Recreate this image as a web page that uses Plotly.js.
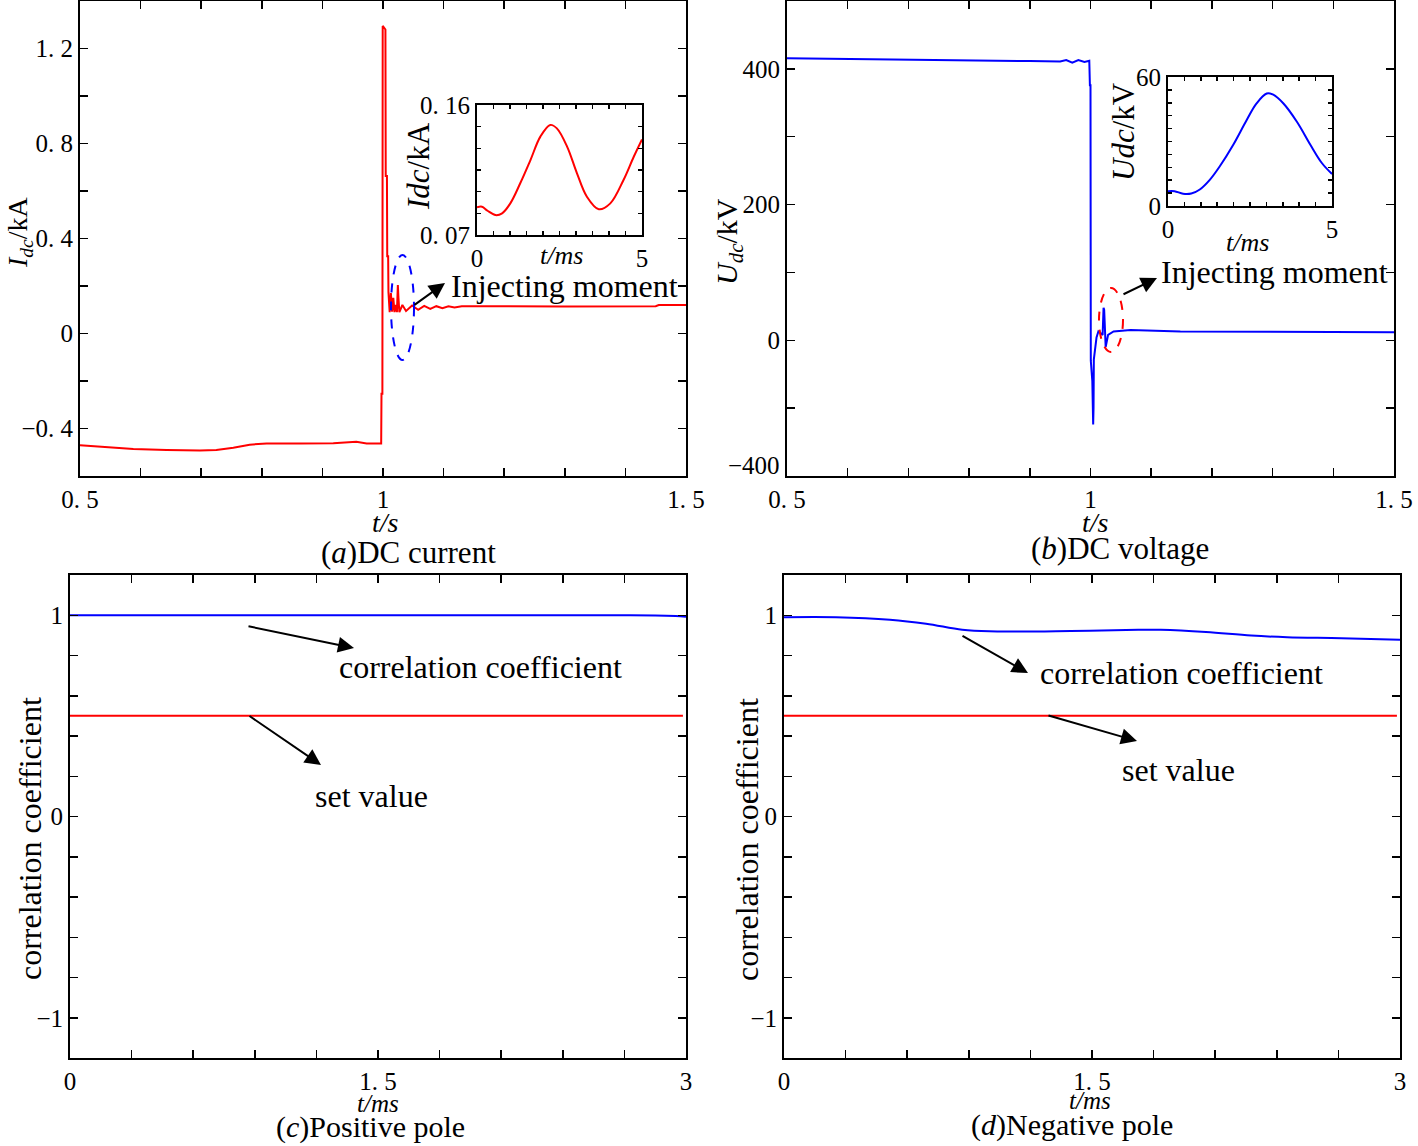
<!DOCTYPE html>
<html>
<head>
<meta charset="utf-8">
<script src="https://cdn.plot.ly/plotly-3.0.1.min.js"></script>
<style>
  body { margin: 0; background: #fff; }
  #chart { width: 1418px; height: 1146px; }
</style>
</head>
<body>
<div id="chart"></div>
<script>
// (a) DC current, t in s, I in kA
var tA = [0.5, 0.544, 0.588, 0.643, 0.698, 0.725, 0.753, 0.78, 0.808, 0.863, 0.918, 0.956, 0.973, 0.997,
  0.9975, 0.999, 0.9995, 1.004, 1.0045, 1.0065, 1.007, 1.0085, 1.009, 1.011, 1.013, 1.015, 1.017, 1.019,
  1.021, 1.023, 1.0245, 1.0255, 1.027, 1.032, 1.038, 1.048, 1.058, 1.068, 1.078, 1.088, 1.098, 1.108,
  1.118, 1.13, 1.2, 1.3, 1.45, 1.455, 1.5];
var iA = [-0.471, -0.478, -0.486, -0.49, -0.493, -0.49, -0.481, -0.468, -0.463, -0.463, -0.462, -0.456, -0.463, -0.463,
  -0.254, -0.254, 1.295, 1.28, 0.663, 0.663, 0.325, 0.325, 0.174, 0.09, 0.17, 0.092, 0.15, 0.09,
  0.12, 0.09, 0.204, 0.15, 0.09, 0.12, 0.095, 0.118, 0.1, 0.116, 0.104, 0.115, 0.107, 0.115,
  0.11, 0.115, 0.114, 0.114, 0.115, 0.12, 0.12];

// (a) inset, t in ms
var tAi = [0, 0.15, 0.32, 0.56, 0.76, 1.01, 1.31, 1.62, 1.92, 2.22, 2.42, 2.73, 3.03, 3.33, 3.69, 4.04, 4.44, 4.75, 5.0];
var iAi = [0.0892, 0.0896, 0.0868, 0.0838, 0.085, 0.0919, 0.1058, 0.1219, 0.1381, 0.1462, 0.1438, 0.1312, 0.1127,
  0.0965, 0.0878, 0.0919, 0.1081, 0.1242, 0.1362];

// (b) DC voltage, t in s, U in kV
var tB = [0.5, 0.6, 0.7, 0.8, 0.9, 0.95, 0.96, 0.97, 0.98, 0.99, 0.998, 0.999, 1.0, 1.0005, 1.003, 1.0044,
  1.005, 1.0055, 1.0099, 1.013, 1.02, 1.0215, 1.0225, 1.025, 1.029, 1.038, 1.066, 1.148, 1.3, 1.4, 1.5];
var uB = [415.8, 415, 414, 412.5, 411.5, 411, 413, 409, 413, 410, 412, 376, 376, -30, -60, -124,
  -100, -28, 4, 13, 8, 48, 45, -10, 8, 13, 15, 13, 12.5, 12, 12];

// (b) inset, t in ms
var tBi = [0, 0.2, 0.46, 0.71, 0.97, 1.28, 1.58, 1.99, 2.4, 2.7, 3.01, 3.21, 3.52, 3.93, 4.34, 4.69, 5.0];
var uBi = [6.9, 6.9, 5.7, 5.8, 7.7, 12.3, 18.5, 28.5, 40, 47.7, 52.3, 51.8, 47.7, 39.2, 28.5, 20, 14.9];

// (c) positive pole, (d) negative pole, t in ms
var tC = [0, 0.3, 0.6, 0.9, 1.2, 1.5, 1.8, 2.1, 2.4, 2.7, 2.85, 2.95, 3.0];
var rC = [1, 1, 1, 1, 1, 1, 1, 1, 1, 1, 0.999, 0.996, 0.993];
var tD = [0, 0.253, 0.516, 0.692, 0.868, 1.0, 1.396, 1.725, 1.835, 2.055, 2.275, 2.45, 2.714, 3.0];
var rD = [0.99, 0.99, 0.978, 0.958, 0.928, 0.92, 0.922, 0.928, 0.928, 0.917, 0.899, 0.891, 0.886, 0.878];
var tSet = [0, 2.985];
var setVal = [0.5, 0.5];

// ticks
var xTickA = [0.5, 0.6, 0.7, 0.8, 0.9, 1.0, 1.1, 1.2, 1.3, 1.4, 1.5];
var xTextA = ["0. 5", "", "", "", "", "1", "", "", "", "", "1. 5"];
var yTickA = [-0.6, -0.4, -0.2, 0, 0.2, 0.4, 0.6, 0.8, 1.0, 1.2, 1.4];
var yTextA = ["", "\u22120. 4", "", "0", "", "0. 4", "", "0. 8", "", "1. 2", ""];
var yTickB = [-200, -100, 0, 100, 200, 300, 400, 500];
var yTextB = ["", "", "0", "", "200", "", "400", ""];
var yLowB = "\u2212400"; // bottom label as printed in the source figure
var xTickIn = [0, 0.5, 1, 1.5, 2, 2.5, 3, 3.5, 4, 4.5, 5];
var xTextIn = ["0", "", "", "", "", "", "", "", "", "", "5"];
var yTickAi = [0.07, 0.085, 0.1, 0.115, 0.13, 0.145, 0.16];
var yTextAi = ["0. 07", "", "", "", "", "", "0. 16"];
var yTickBi = [0, 6, 12, 18, 24, 30, 36, 42, 48, 54, 60];
var yTextBi = ["0", "", "", "", "", "", "", "", "", "", "60"];
var xTickC = [0, 0.3, 0.6, 0.9, 1.2, 1.5, 1.8, 2.1, 2.4, 2.7, 3.0];
var xTextC = ["0", "", "", "", "", "1. 5", "", "", "", "", "3"];
var yTickC = [-1.2, -1.0, -0.8, -0.6, -0.4, -0.2, 0, 0.2, 0.4, 0.6, 0.8, 1.0, 1.2];
var yTextC = ["", "\u22121", "", "", "", "", "0", "", "", "", "", "1", ""];

const W = 1418, H = 1146;
const FONT = "Liberation Serif, Times New Roman, serif";
function px(x) { return x / W; }
function py(y) { return 1 - y / H; }

function axis(domain, anchor, range, vals, text, len, size) {
  return {
    domain: domain, anchor: anchor, range: range,
    tickmode: "array", tickvals: vals, ticktext: text,
    ticks: "inside", ticklen: len, tickwidth: 1.5, tickcolor: "black",
    showline: true, linewidth: 2, linecolor: "black", mirror: "ticks",
    showgrid: false, zeroline: false, fixedrange: true,
    tickfont: { family: FONT, size: size, color: "black" }
  };
}

function line(x, y, xa, ya, color, shape) {
  return { x: x, y: y, xaxis: xa, yaxis: ya, type: "scatter", mode: "lines",
    line: { color: color, width: 2, shape: shape || "linear" }, hoverinfo: "skip" };
}

var traces = [
  line(tA, iA, "x", "y", "#ff0000"),
  line(tB, uB, "x2", "y2", "#0000ff"),
  line(tAi, iAi, "x3", "y3", "#ff0000", "spline"),
  line(tBi, uBi, "x4", "y4", "#0000ff", "spline"),
  line(tC, rC, "x5", "y5", "#0000ff", "spline"),
  line(tSet, setVal, "x5", "y5", "#ff0000"),
  line(tD, rD, "x6", "y6", "#0000ff", "spline"),
  line(tSet, setVal, "x6", "y6", "#ff0000")
];

function txt(x, y, text, size, angle) {
  return { xref: "paper", yref: "paper", x: px(x), y: py(y), text: text, showarrow: false,
    xanchor: "center", yanchor: "middle", textangle: angle || 0, borderpad: 0,
    font: { family: FONT, size: size, color: "black" } };
}
function arrow(tx, ty, hx, hy) {
  return { xref: "paper", yref: "paper", x: px(hx), y: py(hy), ax: tx - hx, ay: ty - hy,
    text: "", showarrow: true, arrowhead: 2, arrowsize: 1.6, arrowwidth: 2, arrowcolor: "black" };
}

var annotations = [
  // y titles
  txt(19, 232, "<i>I<sub>dc</sub></i>/kA", 28, -90),
  txt(729, 242, "<i>U<sub>dc</sub></i>/kV", 30, -90),
  txt(419, 166, "<i>Idc</i>/kA", 31, -90),
  txt(1123, 132, "<i>Udc</i>/kV", 31, -90),
  txt(30, 839, "correlation coefficient", 32, -90),
  txt(747, 839, "correlation coefficient", 32, -90),
  // x titles
  txt(385, 522, "<i>t/s</i>", 28),
  txt(1095, 522, "<i>t/s</i>", 28),
  txt(561, 256, "<i>t/ms</i>", 26),
  txt(1247, 243, "<i>t/ms</i>", 26),
  txt(378, 1103, "<i>t/ms</i>", 25),
  txt(1090, 1100, "<i>t/ms</i>", 25),
  // captions
  txt(408, 553, "(<i>a</i>)DC current", 31),
  txt(1120, 548, "(<i>b</i>)DC voltage", 31),
  txt(370, 1127, "(<i>c</i>)Positive pole", 30),
  txt(1072, 1125, "(<i>d</i>)Negative pole", 30),
  // notes
  txt(564, 286, "Injecting moment", 32),
  txt(1274, 272, "Injecting moment", 32),
  txt(481, 667, "correlation coefficient", 32),
  txt(371, 796, "set value", 32),
  txt(1181, 673, "correlation coefficient", 32),
  txt(1178, 770, "set value", 32),
  { xref: "paper", yref: "paper", x: px(782), y: py(465), text: yLowB, showarrow: false,
    xanchor: "right", yanchor: "middle", font: { family: FONT, size: 25, color: "black" } },
  arrow(413, 306, 445, 283),
  arrow(1122, 295, 1157, 278),
  arrow(247, 626, 354, 648),
  arrow(248, 715, 321, 765),
  arrow(961, 635, 1028, 673),
  arrow(1047, 715, 1137, 741)
];

var shapes = [
  { type: "circle", xref: "paper", yref: "paper", x0: px(391), x1: px(414), y0: py(360), y1: py(255),
    line: { color: "#0000ff", width: 2, dash: "dash" } },
  { type: "circle", xref: "paper", yref: "paper", x0: px(1099), x1: px(1123), y0: py(352), y1: py(288),
    line: { color: "#ff0000", width: 2, dash: "dash" } }
];

var layout = {
  width: W, height: H,
  margin: { l: 0, r: 0, t: 0, b: 0 },
  paper_bgcolor: "white", plot_bgcolor: "white",
  showlegend: false,
  font: { family: FONT, color: "black" },
  xaxis: axis([px(80), px(686)], "y", [0.5, 1.5], xTickA, xTextA, 8, 25),
  yaxis: axis([py(476), py(1)], "x", [-0.6, 1.4], yTickA, yTextA, 8, 25),
  xaxis2: axis([px(787), px(1394)], "y2", [0.5, 1.5], xTickA, xTextA, 8, 25),
  yaxis2: axis([py(476), py(1)], "x2", [-200, 500], yTickB, yTextB, 8, 25),
  xaxis3: axis([px(477), px(642)], "y3", [0, 5], xTickIn, xTextIn, 4, 25),
  yaxis3: axis([py(235), py(105)], "x3", [0.07, 0.16], yTickAi, yTextAi, 4, 25),
  xaxis4: axis([px(1168), px(1332)], "y4", [0, 5], xTickIn, xTextIn, 4, 25),
  yaxis4: axis([py(206), py(77)], "x4", [0, 60], yTickBi, yTextBi, 4, 25),
  xaxis5: axis([px(70), px(686)], "y5", [0, 3], xTickC, xTextC, 8, 25),
  yaxis5: axis([py(1058), py(575)], "x5", [-1.2, 1.2], yTickC, yTextC, 8, 25),
  xaxis6: axis([px(784), px(1400)], "y6", [0, 3], xTickC, xTextC, 8, 25),
  yaxis6: axis([py(1058), py(575)], "x6", [-1.2, 1.2], yTickC, yTextC, 8, 25),
  annotations: annotations,
  shapes: shapes
};

Plotly.newPlot("chart", traces, layout, { staticPlot: true, displayModeBar: false });
</script>
</body>
</html>
